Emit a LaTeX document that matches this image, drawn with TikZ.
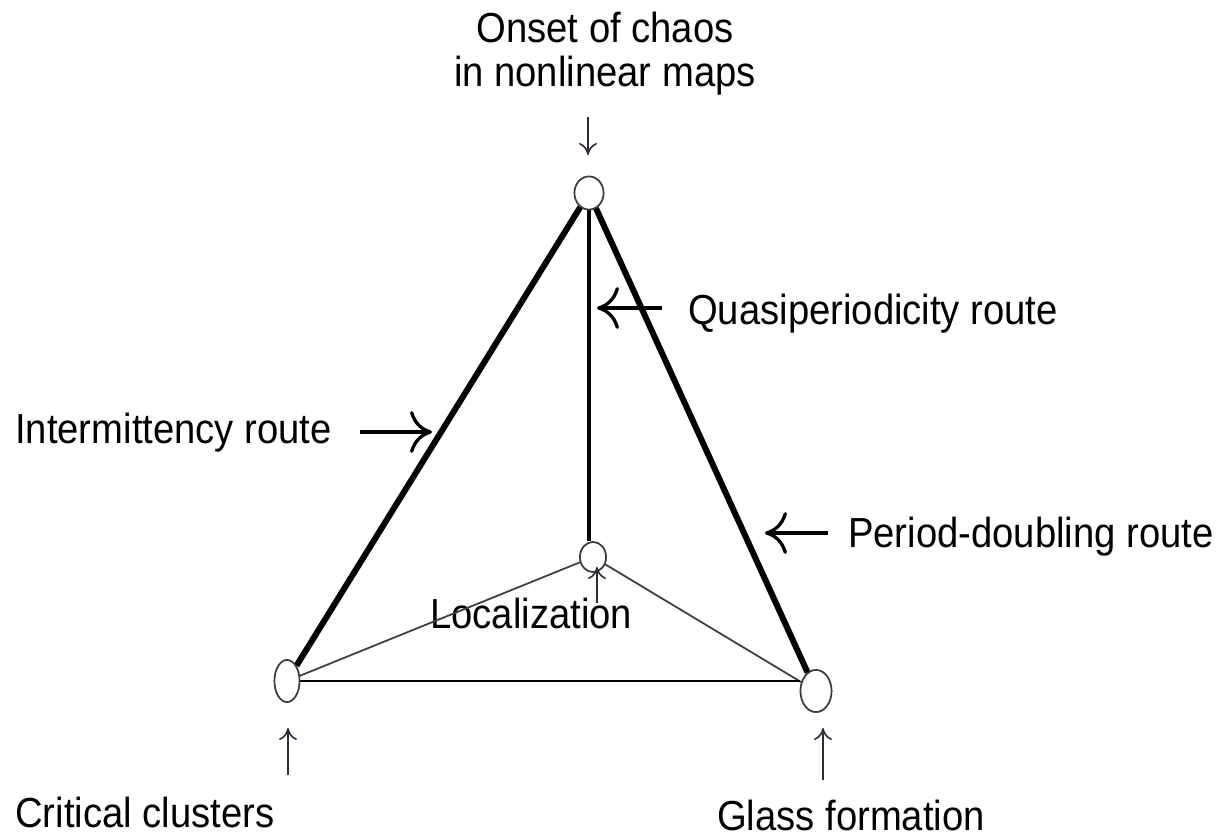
\documentclass[tikz,border=0pt]{standalone}
\usepackage{fontspec}
\usepackage{graphicx}
\setmainfont{Liberation Sans}
\usetikzlibrary{shapes.geometric,arrows.meta}
\definecolor{thinarrow}{RGB}{50,40,55}
\definecolor{nodeline}{RGB}{60,60,60}
\newcommand{\tx}[1]{\scalebox{0.91}[1]{#1}}
\tikzset{
  lbl/.style={inner sep=0pt, font=\fontsize{42}{50}\selectfont},
  vert/.style={ellipse, draw=nodeline, line width=1.6pt, fill=white, inner sep=0pt},
  thickedge/.style={line width=6pt, black},
  midedge/.style={line width=4.5pt, black},
  thinedge/.style={line width=1.8pt, black!75},
  baseedge/.style={line width=1.6pt, black},
  bigarrow/.style={line width=3.3pt, -{Computer Modern Rightarrow[length=22pt,width=42pt,line width=3.3pt]}},
  smallarrow/.style={line width=1.6pt, thinarrow, -{Computer Modern Rightarrow[length=12pt,width=18pt,line width=1.6pt]}}
}
\begin{document}
\begin{tikzpicture}[x=1pt,y=-1pt]
\useasboundingbox (0,0) rectangle (1220,837);

% labels
\node[lbl, anchor=base] (onset1) at (605,43) {\tx{Onset of chaos}};
\node[lbl, anchor=base] (onset2) at (605,87) {\tx{in nonlinear maps}};
\node[lbl, anchor=base west] (quasi) at (688,324) {\tx{Quasiperiodicity route}};
\node[lbl, anchor=base west] (inter) at (15,443) {\tx{Intermittency route}};
\node[lbl, anchor=base west] (period) at (848,547) {\tx{Period-doubling route}};
\node[lbl, anchor=base west] (local) at (430,628) {\tx{Localization}};
\node[lbl, anchor=base west] (crit) at (15,827) {\tx{Critical clusters}};
\node[lbl, anchor=base west] (glass) at (717,830) {\tx{Glass formation}};

% vertices
\node[vert, minimum width=29pt, minimum height=33pt] (top) at (589,193) {};
\node[vert, minimum width=26pt, minimum height=30pt] (mid) at (593,557) {};
\node[vert, minimum width=25pt, minimum height=42pt] (bl) at (287,681) {};
\node[vert, minimum width=31pt, minimum height=42pt] (br) at (816,691) {};

% edges
\draw[thickedge] (top) -- (bl);
\draw[thickedge] (top) -- (br);
\draw[midedge] (top.south) -- (top.south |- mid.north);
\draw[thinedge] (mid) -- (bl);
\draw[thinedge] (mid) -- (br);
\draw[baseedge] (bl.east) -- (bl.east -| br.west);

% redraw vertices on top
\node[vert, minimum width=29pt, minimum height=33pt] at (top) {};
\node[vert, minimum width=26pt, minimum height=30pt] at (mid) {};
\node[vert, minimum width=25pt, minimum height=42pt] at (bl) {};
\node[vert, minimum width=31pt, minimum height=42pt] at (br) {};

% pointer arrows
\coordinate (qa0) at (662,308);
\coordinate (qa1) at (597,308);
\coordinate (ia0) at (360,432);
\coordinate (ia1) at (432,432);
\coordinate (pa0) at (828,533);
\coordinate (pa1) at (765,533);
\draw[bigarrow] (qa0) -- (qa1);
\draw[bigarrow] (ia0) -- (ia1);
\draw[bigarrow] (pa0) -- (pa1);

\coordinate (ta0) at (588,117);
\coordinate (ta1) at (588,155);
\draw[smallarrow] (ta0) -- (ta1);
\coordinate (la0) at (597,603);
\coordinate (la1) at (597,567);
\draw[smallarrow] (la0) -- (la1);
\coordinate (ca0) at (288,775);
\coordinate (ca1) at (288,728);
\draw[smallarrow] (ca0) -- (ca1);
\coordinate (ga0) at (823,780);
\coordinate (ga1) at (823,728);
\draw[smallarrow] (ga0) -- (ga1);
\end{tikzpicture}
\end{document}
